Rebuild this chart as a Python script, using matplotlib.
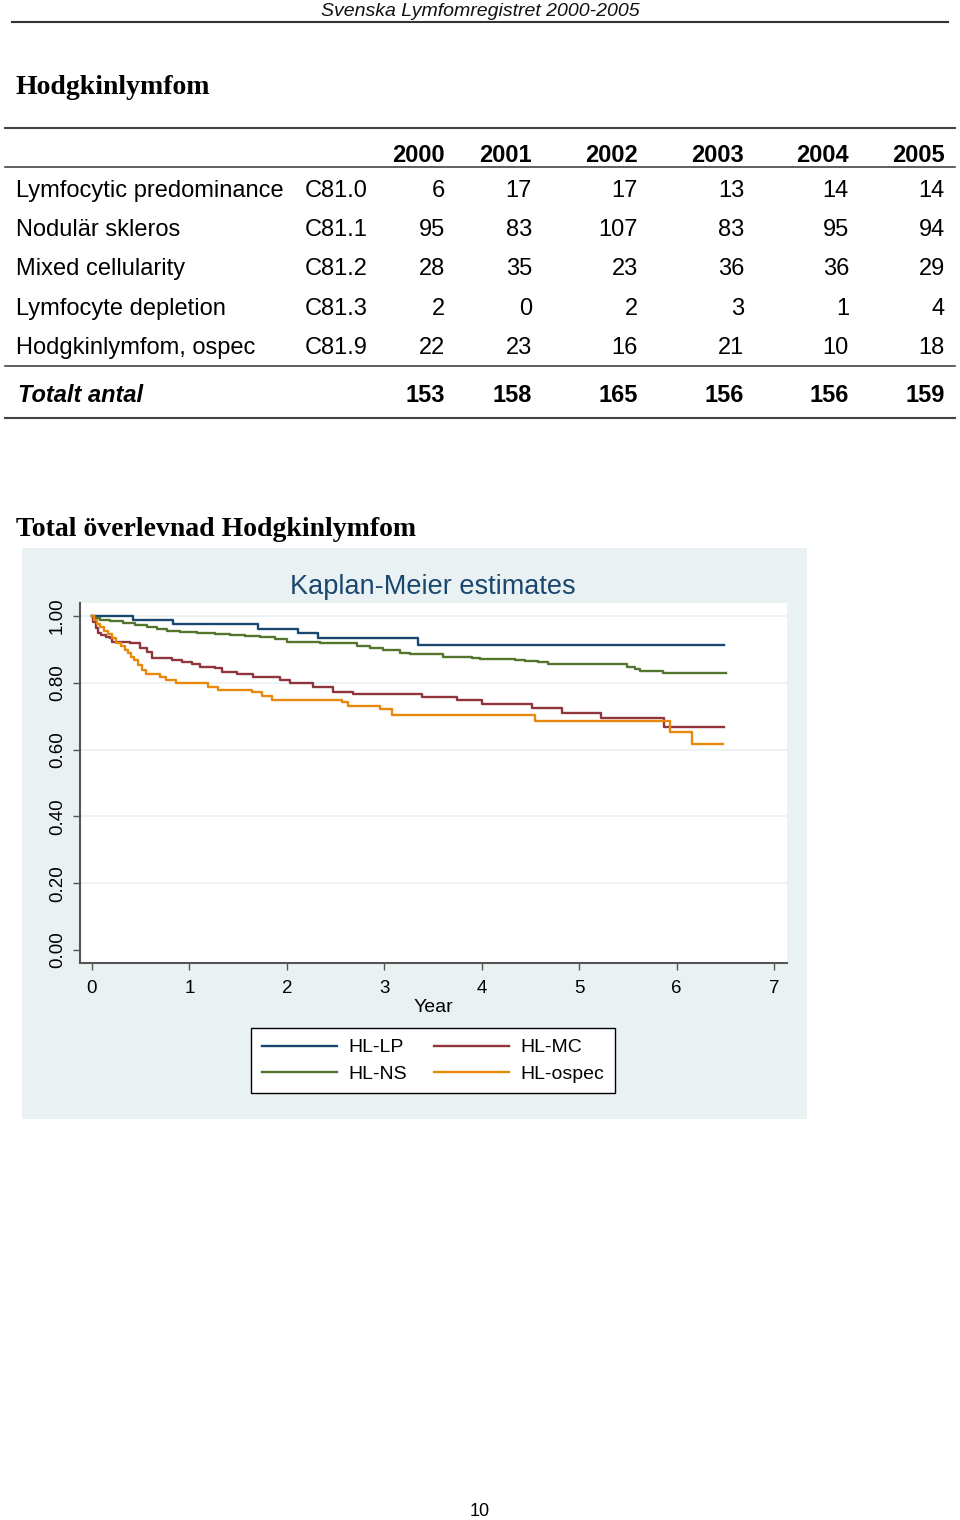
import matplotlib
matplotlib.use('Agg')
import matplotlib.pyplot as plt
from matplotlib.patches import Rectangle

plt.rcParams['font.family'] = ['Liberation Sans', 'DejaVu Sans']

# table data
years = ['2000', '2001', '2002', '2003', '2004', '2005']
row_names = ['Lymfocytic predominance', 'Nodulär skleros', 'Mixed cellularity',
             'Lymfocyte depletion', 'Hodgkinlymfom, ospec']
row_codes = ['C81.0', 'C81.1', 'C81.2', 'C81.3', 'C81.9']
lp_counts = [6, 17, 17, 13, 14, 14]
ns_counts = [95, 83, 107, 83, 95, 94]
mc_counts = [28, 35, 23, 36, 36, 29]
ld_counts = [2, 0, 2, 3, 1, 4]
ospec_counts = [22, 23, 16, 21, 10, 18]
total_counts = [153, 158, 165, 156, 156, 159]

# Kaplan-Meier step curves (years, survival)
lp_t = [0, 0.42, 0.83, 1.70, 2.11, 2.32, 3.35, 6.49]
lp_s = [1.0, 0.988, 0.976, 0.961, 0.948, 0.933, 0.913, 0.913]

ns_t = [0, 0.03, 0.08, 0.18, 0.32, 0.44, 0.56, 0.67, 0.77, 0.90, 1.08, 1.26,
        1.42, 1.57, 1.72, 1.88, 2.00, 2.34, 2.72, 2.85, 2.99, 3.16, 3.26, 3.60,
        3.90, 3.98, 4.34, 4.44, 4.58, 4.68, 5.49, 5.57, 5.62, 5.86, 6.51]
ns_s = [1.0, 0.994, 0.988, 0.985, 0.979, 0.973, 0.967, 0.961, 0.955, 0.952,
        0.949, 0.946, 0.943, 0.940, 0.937, 0.931, 0.922, 0.919, 0.910, 0.904,
        0.898, 0.889, 0.886, 0.877, 0.874, 0.871, 0.868, 0.865, 0.862, 0.856,
        0.847, 0.841, 0.835, 0.828, 0.828]

mc_t = [0, 0.01, 0.04, 0.06, 0.09, 0.14, 0.18, 0.21, 0.39, 0.49, 0.56, 0.62,
        0.82, 0.92, 1.03, 1.11, 1.26, 1.33, 1.49, 1.65, 1.93, 2.03, 2.27, 2.47,
        2.68, 3.39, 3.75, 4.00, 4.52, 4.82, 5.22, 5.87, 6.49]
mc_s = [1.0, 0.982, 0.964, 0.949, 0.943, 0.937, 0.934, 0.922, 0.919, 0.904,
        0.892, 0.874, 0.868, 0.862, 0.856, 0.847, 0.844, 0.832, 0.826, 0.817,
        0.808, 0.799, 0.787, 0.772, 0.766, 0.757, 0.749, 0.737, 0.725, 0.710,
        0.695, 0.668, 0.668]

ospec_t = [0, 0.02, 0.05, 0.08, 0.12, 0.16, 0.21, 0.25, 0.30, 0.34, 0.37, 0.40,
           0.43, 0.47, 0.51, 0.55, 0.70, 0.76, 0.86, 1.19, 1.29, 1.64, 1.74,
           1.85, 2.57, 2.63, 2.96, 3.08, 4.55, 5.93, 6.16, 6.48]
ospec_s = [1.0, 0.988, 0.976, 0.967, 0.955, 0.946, 0.934, 0.919, 0.910, 0.898,
           0.889, 0.877, 0.868, 0.853, 0.838, 0.826, 0.817, 0.808, 0.799, 0.787,
           0.778, 0.772, 0.760, 0.749, 0.743, 0.731, 0.722, 0.704, 0.686, 0.653,
           0.617, 0.617]

W, H = 960, 1520
fig = plt.figure(figsize=(W / 100, H / 100), dpi=100)
fig.patch.set_facecolor('white')

# page axes in pixel coords
page = fig.add_axes([0, 0, 1, 1])
page.set_xlim(0, W)
page.set_ylim(H, 0)
page.axis('off')

page.text(480, 12, 'Svenska Lymfomregistret 2000-2005', fontsize=14, style='italic',
          ha='center', va='center', color='#111111')
page.plot([12, 948], [22, 22], color='#333333', lw=1.5)

serif = ['Liberation Serif', 'DejaVu Serif']
page.text(16, 87, 'Hodgkinlymfom', fontsize=20, fontweight='bold', family=serif,
          ha='left', va='center')

# table
col_right = [445, 532, 638, 744, 849, 945]
line_col = '#444444'
page.plot([5, 955], [128, 128], color=line_col, lw=1.5)
page.plot([5, 955], [167, 167], color=line_col, lw=1.2)
page.plot([5, 955], [366, 366], color=line_col, lw=1.2)
page.plot([5, 955], [418, 418], color=line_col, lw=1.5)

fs = 17
for x, yr in zip(col_right, years):
    page.text(x, 156, yr, fontsize=fs, fontweight='bold', ha='right', va='center')

rows = [lp_counts, ns_counts, mc_counts, ld_counts, ospec_counts]
row_y = [191, 230, 269, 309, 348]
for y, name, code, vals in zip(row_y, row_names, row_codes, rows):
    page.text(16, y, name, fontsize=fs, ha='left', va='center')
    page.text(305, y, code, fontsize=fs, ha='left', va='center')
    for x, v in zip(col_right, vals):
        page.text(x, y, str(v), fontsize=fs, ha='right', va='center')

page.text(18, 395, 'Totalt antal', fontsize=fs, fontweight='bold', style='italic',
          ha='left', va='center')
for x, v in zip(col_right, total_counts):
    page.text(x, 395, str(v), fontsize=fs, fontweight='bold', ha='right', va='center')

page.text(16, 529, 'Total överlevnad Hodgkinlymfom', fontsize=20, fontweight='bold',
          family=serif, ha='left', va='center')

# graph background
page.add_patch(Rectangle((22, 548), 785, 571, facecolor='#eaf1f3', edgecolor='none'))
page.text(433, 587, 'Kaplan-Meier estimates', fontsize=19.5, color='#1a476f',
          ha='center', va='center')
page.text(433, 1008, 'Year', fontsize=14, ha='center', va='center')
page.text(480, 1512, '10', fontsize=13, ha='center', va='center')

# KM plot
left, right, top, bottom = 80, 787, 603, 963
ax = fig.add_axes([left / W, 1 - bottom / H, (right - left) / W, (bottom - top) / H])
ax.set_facecolor('white')
ax.set_xlim(-0.123, 7.133)
ax.set_ylim(-0.039, 1.039)

for yv in [0.2, 0.4, 0.6, 0.8, 1.0]:
    ax.axhline(yv, color='#eaf1f3', lw=1.2, zorder=0)

colors = {'HL-LP': '#1a476f', 'HL-MC': '#90353b', 'HL-NS': '#55752f', 'HL-ospec': '#e8890c'}
l_lp, = ax.step(lp_t, lp_s, where='post', color=colors['HL-LP'], lw=1.7)
l_ns, = ax.step(ns_t, ns_s, where='post', color=colors['HL-NS'], lw=1.7)
l_mc, = ax.step(mc_t, mc_s, where='post', color=colors['HL-MC'], lw=1.7)
l_os, = ax.step(ospec_t, ospec_s, where='post', color=colors['HL-ospec'], lw=1.7)

for s in ['top', 'right']:
    ax.spines[s].set_visible(False)
for s in ['left', 'bottom']:
    ax.spines[s].set_color('#555555')
    ax.spines[s].set_linewidth(1.5)

ax.set_xticks(range(0, 8))
ax.set_yticks([0, 0.2, 0.4, 0.6, 0.8, 1.0])
ax.set_yticklabels(['0.00', '0.20', '0.40', '0.60', '0.80', '1.00'], rotation=90,
                   va='center')
ax.tick_params(axis='both', labelsize=13.5, length=5, width=1, color='#555555')
ax.tick_params(axis='x', pad=7)
ax.tick_params(axis='y', pad=5)

fig.legend([l_lp, l_ns, l_mc, l_os], ['HL-LP', 'HL-NS', 'HL-MC', 'HL-ospec'],
           ncol=2, loc='upper left', bbox_to_anchor=(251 / W, 1 - 1028 / H),
           borderaxespad=0, fontsize=14, frameon=True, fancybox=False,
           edgecolor='black', framealpha=1, handlelength=3.85, handletextpad=0.6,
           columnspacing=1.4, labelspacing=0.45, borderpad=0.55)

plt.savefig('out.png', dpi=100)
